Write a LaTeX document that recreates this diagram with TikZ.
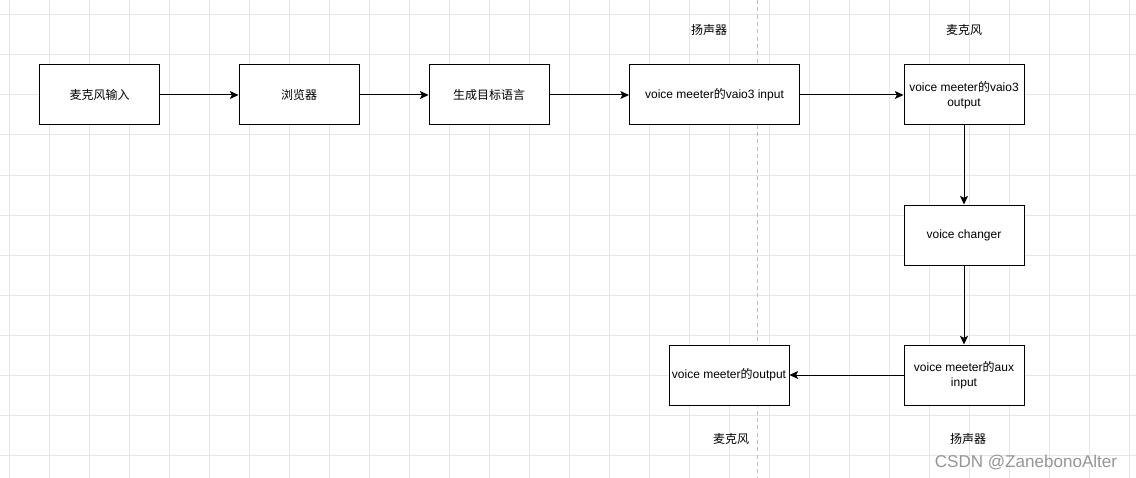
\documentclass[tikz,border=0pt]{standalone}
\usepackage{fontspec}
\setmainfont{Liberation Sans}
\newfontfamily\cjk{Noto Sans CJK SC}
\usetikzlibrary{arrows.meta}
\definecolor{gridc}{RGB}{230,230,230}
\definecolor{dashc}{RGB}{190,190,190}
\definecolor{markc}{RGB}{150,150,150}
\begin{document}
\begin{tikzpicture}[x=0.75pt,y=-0.75pt,
  box/.style={draw=black, line width=0.75pt, fill=white, minimum width=90pt, minimum height=45pt, inner sep=1pt, align=center, font=\fontsize{9pt}{11pt}\selectfont},
  wide/.style={box, minimum width=127.5pt},
  lbl/.style={font=\fontsize{9pt}{11pt}\selectfont\cjk, inner sep=0pt},
  conn/.style={line width=0.75pt, -{Stealth[length=6.5pt,width=6pt,inset=1.5pt]}}]
\useasboundingbox (0,0) rectangle (1136,478);
\fill[white] (0,0) rectangle (1136,478);
% grid
\foreach \gx in {9,49,...,1129} \draw[gridc, line width=0.75pt] (\gx,0) -- (\gx,478);
\foreach \gy in {15,55,...,475} \draw[gridc, line width=0.75pt] (0,\gy) -- (1136,\gy);
% dashed divider
\draw[dashc, line width=0.75pt, dash pattern=on 3pt off 2.5pt] (757,0) -- (757,478);
% boxes
\node[box] (b1) at (99.5,95) {\cjk 麦克风输入};
\node[box] (b2) at (299,95) {\cjk 浏览器};
\node[box] (b3) at (489,95) {\cjk 生成目标语言};
\node[wide] (b4) at (714.5,95) {voice meeter{\cjk 的}vaio3 input};
\node[box] (b5) at (964,95) {voice meeter{\cjk 的}vaio3\\output};
\node[box] (b6) at (964,235) {voice changer};
\node[box] (b7) at (964,375) {voice meeter{\cjk 的}aux\\input};
\node[box] (b8) at (729,375) {voice meeter{\cjk 的}output};
% labels
\node[lbl] (l1) at (709,30) {扬声器};
\node[lbl] (l2) at (964,30) {麦克风};
\node[lbl] (l3) at (731,439) {麦克风};
\node[lbl] (l4) at (968,439) {扬声器};
\node[inner sep=0pt, text=markc, font=\fontsize{12.8pt}{14pt}\selectfont] (wm) at (1026,462) {CSDN @ZanebonoAlter};
% connectors
\draw[conn] (b1.east) -- (b2.west);
\draw[conn] (b2.east) -- (b3.west);
\draw[conn] (b3.east) -- (b4.west);
\draw[conn] (b4.east) -- (b5.west);
\draw[conn] (b5.south) -- (b6.north);
\draw[conn] (b6.south) -- (b7.north);
\draw[conn] (b7.west) -- (b8.east);
\end{tikzpicture}
\end{document}
